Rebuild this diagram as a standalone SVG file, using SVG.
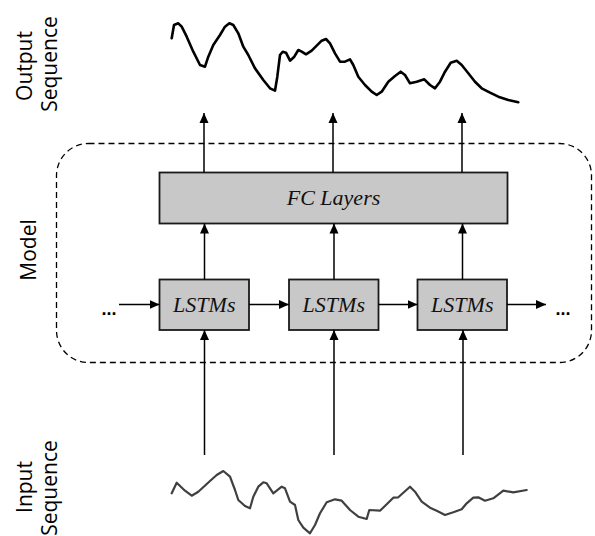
<svg xmlns="http://www.w3.org/2000/svg" width="595" height="536" viewBox="0 0 595 536">
<style>
.box{fill:#c8c8c8;stroke:#1a1a1a;stroke-width:1.8}
.lbl{font-family:"Liberation Serif",serif;font-style:italic;font-size:22px;fill:#111;text-anchor:middle}
.side{font-family:"Open Sans","Liberation Sans",sans-serif;font-size:21px;fill:#000;text-anchor:middle}
.conn{stroke:#000;stroke-width:1.5;fill:none}
.dots{font-family:"Liberation Sans",sans-serif;font-weight:bold;font-size:18px;fill:#000;text-anchor:middle}
</style>
<defs>
<marker id="ah" viewBox="0 0 10 10" refX="10" refY="5" markerWidth="10" markerHeight="10" markerUnits="userSpaceOnUse" orient="auto">
<path d="M0,0.5 L10,5 L0,9.5 z" fill="#000"/>
</marker>
</defs>
<rect x="0" y="0" width="595" height="536" fill="#fff"/>

<g id="labels">
<text class="side" transform="translate(32,66) rotate(-90)">Output</text>
<text class="side" transform="translate(57,64) rotate(-90)">Sequence</text>
<text class="side" transform="translate(36,250) rotate(-90)">Model</text>
<text class="side" transform="translate(32,487) rotate(-90)">Input</text>
<text class="side" transform="translate(57,488) rotate(-90)">Sequence</text>
</g>

<g id="model-boundary">
<rect x="56.5" y="143.5" width="535" height="219" rx="32" ry="32" fill="none" stroke="#000" stroke-width="1.3" stroke-dasharray="6,4"/>
</g>

<g id="output-sequence">
<polyline fill="none" stroke="#000" stroke-width="2.6" stroke-linejoin="round" stroke-linecap="round" points="171.7,38.3 174,25 178.3,23.3 181.7,26.7 186.7,36.7 193.3,51.7 200,65 205,66.7 208.3,56.7 213.3,45 220,35 225,26.7 229.3,23.3 233.3,25 238.3,33.3 243.3,46.7 248.3,55 255,68.3 263.3,80 270,88.3 275,90.7 277.3,76.7 280,55 282.7,51.7 286,52.7 290,60.7 294.3,56.7 298.3,50 301.7,51.7 306,54.3 311.7,50.7 316.7,45.7 321.7,40.7 326,39 330,43.3 335,53.3 340,61.7 345,61.7 350,59.3 353.3,65 358.3,76.7 365,85 371.7,91.7 376.7,95 381.7,91.7 388.3,81.7 395,76 400.7,71.7 405,75 410,83.3 416.7,81.7 424.3,79.3 430,85 435,88.3 440,81.7 445,71.7 450.7,62.7 456.7,60.7 461.7,65 468.3,73.3 475,81.7 481.7,88.3 490,92.7 498.3,96.7 508.3,100 518.3,102.3"/>
</g>

<g id="input-sequence">
<polyline fill="none" stroke="#404040" stroke-width="2.2" stroke-linejoin="round" stroke-linecap="round" points="171.7,493.3 176.7,482.7 185,490.7 191.7,495.7 198.3,491.7 210,481 216.7,475 223.3,471 230,476.7 235,490 238.3,500 245,506 250,508.3 253.3,496.7 258.3,486.7 263.3,482.3 266.7,483.3 273.3,493.3 276.7,490.7 281.7,486.7 285,488.3 290,501.7 295,505 298.3,520 303.3,527.7 310,533.3 315,525 320,513.3 326.7,502.3 335,499.3 341.7,500.7 350,510 358.3,516.7 366.7,519 369.3,510 380,510.7 386.7,504.3 393.3,497.7 398.3,497.3 410,486.7 415,491.7 421.7,501.7 430,507.7 436.7,510.7 445,515 453.3,512.3 461.7,509.3 466.7,503.3 473.3,497.7 478.3,497.3 485,500.7 493.3,498.3 503.3,490.7 513.3,492.3 526.7,490"/>
</g>

<g id="fc-layers">
<rect class="box" x="159.5" y="172.5" width="348" height="51"/>
<text class="lbl" x="333.5" y="205">FC Layers</text>
</g>

<g id="lstm1">
<rect class="box" x="159.5" y="279.5" width="89.5" height="50.5"/>
<text class="lbl" x="204.3" y="312">LSTMs</text>
</g>
<g id="lstm2">
<rect class="box" x="289" y="279.5" width="89.5" height="50.5"/>
<text class="lbl" x="333.8" y="312">LSTMs</text>
</g>
<g id="lstm3">
<rect class="box" x="417.5" y="279.5" width="89.5" height="50.5"/>
<text class="lbl" x="462.3" y="312">LSTMs</text>
</g>

<g id="ellipsis-left"><text class="dots" x="109" y="315">...</text></g>
<g id="ellipsis-right"><text class="dots" x="563" y="315">...</text></g>

<g id="connectors">
<line class="conn" x1="204" y1="172.5" x2="204" y2="113" marker-end="url(#ah)"/>
<line class="conn" x1="333" y1="172.5" x2="333" y2="113" marker-end="url(#ah)"/>
<line class="conn" x1="462" y1="172.5" x2="462" y2="113" marker-end="url(#ah)"/>
<line class="conn" x1="204.5" y1="279.5" x2="204.5" y2="223.5" marker-end="url(#ah)"/>
<line class="conn" x1="334" y1="279.5" x2="334" y2="223.5" marker-end="url(#ah)"/>
<line class="conn" x1="462.5" y1="279.5" x2="462.5" y2="223.5" marker-end="url(#ah)"/>
<line class="conn" x1="204.5" y1="455" x2="204.5" y2="330" marker-end="url(#ah)"/>
<line class="conn" x1="334" y1="455" x2="334" y2="330" marker-end="url(#ah)"/>
<line class="conn" x1="463" y1="455" x2="463" y2="330" marker-end="url(#ah)"/>
<line class="conn" x1="119" y1="304.5" x2="159.5" y2="304.5" marker-end="url(#ah)"/>
<line class="conn" x1="249" y1="304.5" x2="289" y2="304.5" marker-end="url(#ah)"/>
<line class="conn" x1="378.5" y1="304.5" x2="417.5" y2="304.5" marker-end="url(#ah)"/>
<line class="conn" x1="507" y1="304.5" x2="546" y2="304.5" marker-end="url(#ah)"/>
</g>
</svg>
